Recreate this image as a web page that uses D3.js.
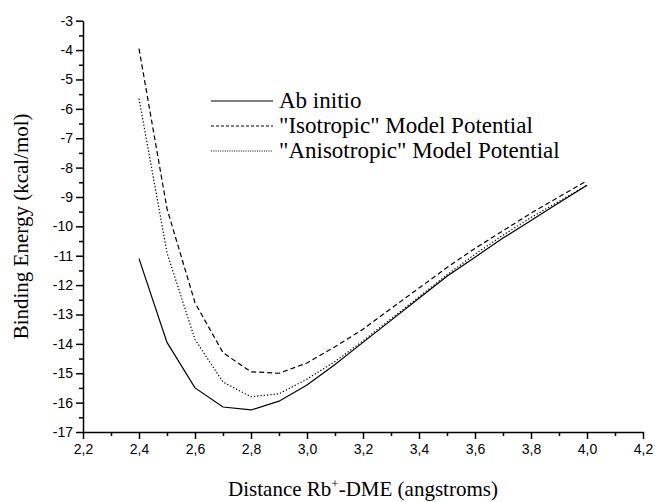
<!DOCTYPE html>
<html><head><script src="https://d3js.org/d3.v7.min.js"></script></head>
<body style="margin:0">
<svg width="655" height="502" font-family="Liberation Serif"></svg>
<script>
    // distance (angstroms)
    const distances = [2.4, 2.5, 2.6, 2.7, 2.8, 2.9, 3.0, 3.1, 3.2, 3.3, 3.4, 3.5, 3.6, 3.7, 3.8, 3.9, 4.0];
    // binding energies (kcal/mol)
    const abInitio    = [-11.1, -13.95, -15.5, -16.15, -16.25, -15.95, -15.4, -14.7, -13.95, -13.2, -12.45, -11.7, -11.05, -10.4, -9.8, -9.2, -8.6];
    const isotropic   = [-3.95, -9.4, -12.6, -14.3, -14.95, -15.0, -14.65, -14.1, -13.5, -12.8, -12.1, -11.4, -10.75, -10.15, -9.55, -9.0, -8.45];
    const anisotropic = [-5.65, -10.9, -13.85, -15.3, -15.8, -15.7, -15.2, -14.6, -13.9, -13.15, -12.4, -11.65, -10.95, -10.3, -9.7, -9.15, -8.6];

    const seriesNames = ["Ab initio", "\"Isotropic\" Model Potential", "\"Anisotropic\" Model Potential"];
    const xTicks = [2.2, 2.4, 2.6, 2.8, 3.0, 3.2, 3.4, 3.6, 3.8, 4.0, 4.2];
    const yTicks = [-17, -16, -15, -14, -13, -12, -11, -10, -9, -8, -7, -6, -5, -4, -3];

    const svg = d3.select("svg");
    const plot = { left: 83, right: 643, top: 20.7, bottom: 432 };

    const x = d3.scaleLinear().domain([2.2, 4.2]).range([plot.left, plot.right]);
    const y = d3.scaleLinear().domain([-17, -3]).range([plot.bottom, plot.top]);

    const fmt = d => d.toFixed(1).replace(".", ",");

    // serif texts (inherit font from the svg)
    svg.append("text")
      .attr("font-size", 21)
      .attr("text-anchor", "middle")
      .attr("transform", `translate(28,${(plot.top + plot.bottom) / 2}) rotate(-90)`)
      .text("Binding Energy (kcal/mol)");

    const xt = svg.append("text")
      .attr("font-size", 21)
      .attr("text-anchor", "middle")
      .attr("x", (plot.left + plot.right) / 2)
      .attr("y", 496);
    xt.append("tspan").text("Distance Rb");
    xt.append("tspan").attr("dy", -8).attr("font-size", 13).text("+");
    xt.append("tspan").attr("dy", 8).text("-DME (angstroms)");

    seriesNames.forEach((name, i) => {
      svg.append("text")
        .attr("font-size", 23)
        .attr("x", 279)
        .attr("y", 108 + i * 25)
        .text(name);
    });

    // minor ticks
    const xMinor = d3.range(2.3, 4.2, 0.2);
    const yMinor = d3.range(-16.5, -3, 1);

    svg.append("g")
      .attr("transform", `translate(0,${plot.bottom})`)
      .call(d3.axisBottom(x).tickValues(xMinor).tickSize(4).tickFormat(""))
      .call(g => g.select(".domain").remove())
      .call(g => g.selectAll("line").attr("stroke-width", 1.5));

    svg.append("g")
      .attr("transform", `translate(${plot.left},0)`)
      .call(d3.axisLeft(y).tickValues(yMinor).tickSize(4).tickFormat(""))
      .call(g => g.select(".domain").remove())
      .call(g => g.selectAll("line").attr("stroke-width", 1.5));

    // major axes
    const gX = svg.append("g")
      .attr("transform", `translate(0,${plot.bottom})`)
      .call(d3.axisBottom(x).tickValues(xTicks).tickSize(7).tickSizeOuter(0).tickPadding(5).tickFormat(fmt));
    const gY = svg.append("g")
      .attr("transform", `translate(${plot.left},0)`)
      .call(d3.axisLeft(y).tickValues(yTicks).tickSize(7).tickSizeOuter(0).tickPadding(3).tickFormat(d => String(d)));

    [gX, gY].forEach(g => {
      g.attr("font-family", "Liberation Sans").attr("font-size", 14);
      g.select(".domain").attr("stroke-width", 1.5);
      g.selectAll(".tick line").attr("stroke-width", 1.5);
      g.selectAll(".tick text").attr("fill", "#000");
    });

    // curves
    const dashes = [null, "5,3", "1.3,2"];
    const allSeries = [abInitio, isotropic, anisotropic];

    const line = d3.line()
      .x(d => x(d[0]))
      .y(d => y(d[1]));

    allSeries.forEach((vals, i) => {
      svg.append("path")
        .datum(distances.map((d, j) => [d, vals[j]]))
        .attr("fill", "none")
        .attr("stroke", "#000")
        .attr("stroke-width", 1.2)
        .attr("stroke-dasharray", dashes[i])
        .attr("d", line);
    });

    // legend samples
    const legendDashes = [null, "3,2", "1,1.3"];
    legendDashes.forEach((dash, i) => {
      const ly = 101 + i * 25;
      svg.append("line")
        .attr("x1", 211).attr("x2", 273)
        .attr("y1", ly).attr("y2", ly)
        .attr("stroke", "#000")
        .attr("stroke-width", 1.2)
        .attr("stroke-dasharray", dash);
    });
</script></body></html>
